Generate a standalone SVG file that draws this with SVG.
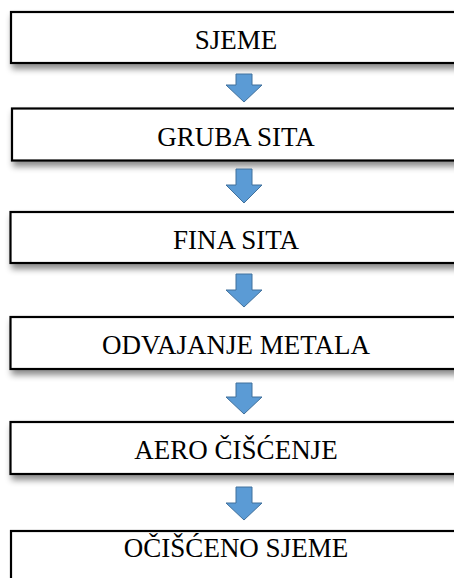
<svg xmlns="http://www.w3.org/2000/svg" width="454" height="578" viewBox="0 0 454 578">
<defs>
<filter id="sh" x="-10%" y="-30%" width="130%" height="180%">
<feDropShadow dx="2" dy="5" stdDeviation="3" flood-color="#000" flood-opacity="0.45"/>
</filter>
<style>
.box{fill:#fff;stroke:#000;stroke-width:2.2}
.lbl{font-family:"Liberation Serif","Times New Roman",serif;font-size:27px;fill:#000;text-anchor:middle}
.arr{fill:#5b9bd5;stroke:#41719c;stroke-width:1}
</style>
</defs>
<rect width="454" height="578" fill="#fff"/>
<g id="n1"><rect class="box" x="11" y="12" width="450" height="51" filter="url(#sh)"/><text class="lbl" x="236" y="49">SJEME</text></g>
<g id="n2"><rect class="box" x="12" y="108.5" width="450" height="52" filter="url(#sh)"/><text class="lbl" x="236" y="145.5">GRUBA SITA</text></g>
<g id="n3"><rect class="box" x="10.5" y="212" width="450" height="51" filter="url(#sh)"/><text class="lbl" x="236" y="249">FINA SITA</text></g>
<g id="n4"><rect class="box" x="10.5" y="317" width="450" height="52" filter="url(#sh)"/><text class="lbl" x="236" y="354">ODVAJANJE METALA</text></g>
<g id="n5"><rect class="box" x="10.5" y="422" width="450" height="52" filter="url(#sh)"/><text class="lbl" x="236" y="459">AERO ČIŠĆENJE</text></g>
<g id="n6"><rect class="box" x="11" y="531" width="450" height="70"/><text class="lbl" x="236" y="557">OČIŠĆENO SJEME</text></g>
<g id="connectors">
<path class="arr" d="M236,74 L252,74 L252,85 L262,85 L244,102 L226,85 L236,85 Z"/>
<path class="arr" d="M236,169 L252,169 L252,185 L262,185 L244,203 L226,185 L236,185 Z"/>
<path class="arr" d="M236,274 L252,274 L252,290 L262,290 L244,307 L226,290 L236,290 Z"/>
<path class="arr" d="M236,383 L252,383 L252,397 L262,397 L244,414 L226,397 L236,397 Z"/>
<path class="arr" d="M236,487 L252,487 L252,503 L262,503 L244,520 L226,503 L236,503 Z"/>
</g>
</svg>
